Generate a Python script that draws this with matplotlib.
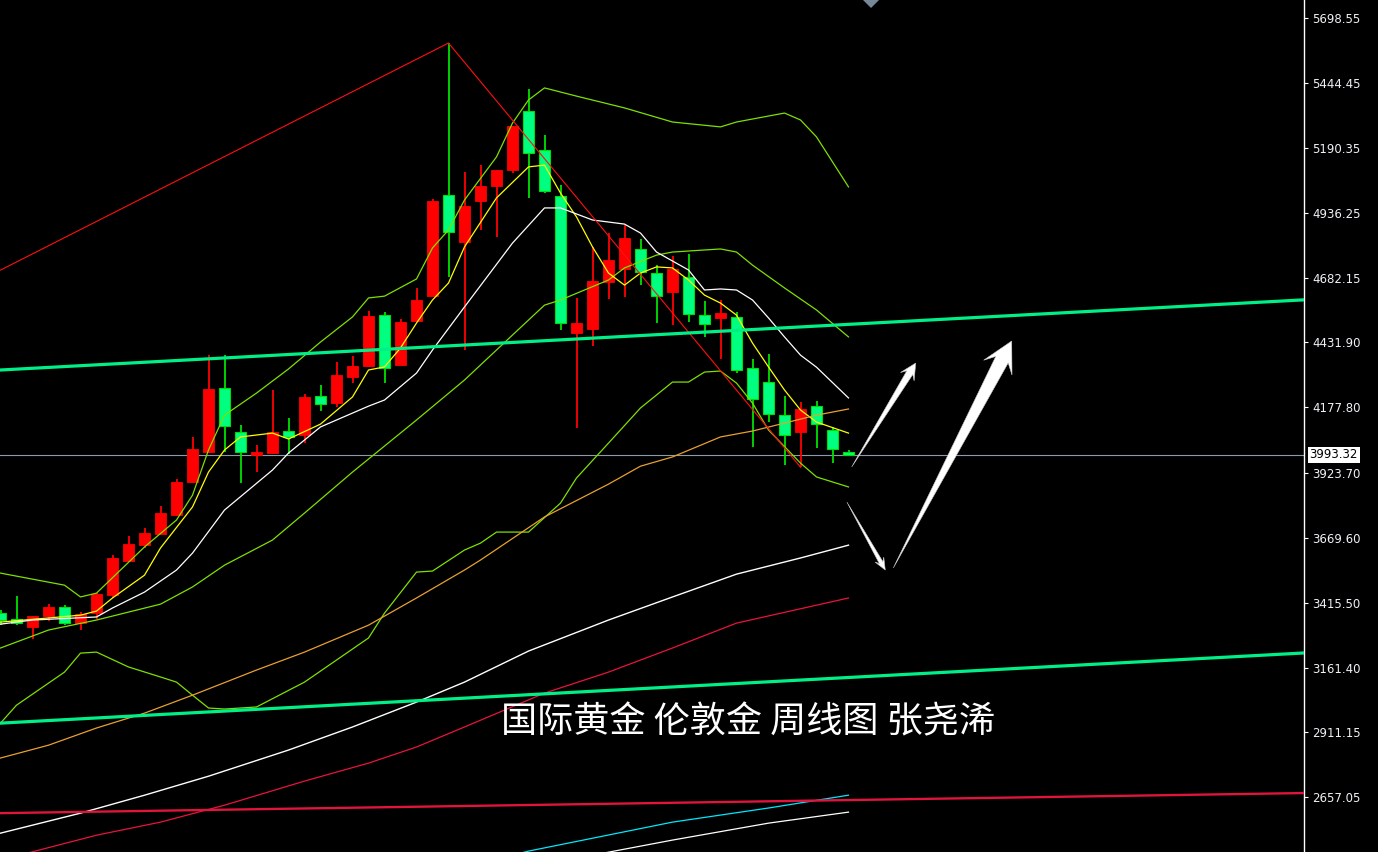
import numpy as np
import matplotlib
matplotlib.use("Agg")
import matplotlib.pyplot as plt
from matplotlib.patches import Polygon
from matplotlib.transforms import IdentityTransform

plt.rcParams['font.family'] = ['Noto Sans CJK SC', 'DejaVu Sans']

# weekly candles (price)
opens = [3376, 3353, 3322, 3364, 3400, 3337, 3376, 3446, 3579, 3641, 3684, 3758, 3887, 4004,
         4254, 4082, 3992, 4000, 4086, 4070, 4222, 4195, 4297, 4339, 4538, 4343, 4515, 4612,
         5006, 4823, 4983, 5041, 5104, 5334, 5182, 5002, 4468, 4484, 4667, 4718, 4796, 4702,
         4628, 4687, 4538, 4527, 4530, 4332, 4277, 4148, 4082, 4183, 4090, 4004]
highs = [3388, 3442, 3366, 3411, 3407, 3380, 3454, 3602, 3676, 3708, 3793, 3899, 4062, 4382,
         4382, 4109, 4031, 4246, 4137, 4230, 4265, 4355, 4378, 4554, 4550, 4523, 4644, 4991,
         5599, 5096, 5123, 5104, 5275, 5420, 5240, 5045, 4605, 4804, 4858, 4889, 4835, 4733,
         4768, 4776, 4593, 4597, 4550, 4367, 4386, 4222, 4199, 4203, 4101, 4012]
lows = [3329, 3329, 3275, 3345, 3329, 3310, 3353, 3435, 3575, 3630, 3680, 3754, 3883, 4000,
        4004, 3883, 3926, 3996, 3996, 4039, 4164, 4180, 4273, 4336, 4273, 4343, 4511, 4612,
        4687, 4402, 4870, 4843, 5092, 4995, 5014, 4480, 4098, 4417, 4601, 4609, 4655, 4507,
        4499, 4511, 4452, 4367, 4312, 4023, 4121, 3953, 3945, 4020, 3961, 3990]
closes = [3349, 3337, 3364, 3400, 3337, 3372, 3450, 3591, 3645, 3688, 3766, 3887, 4016, 4250,
          4105, 4004, 4004, 4082, 4062, 4218, 4191, 4304, 4339, 4534, 4332, 4511, 4597, 4983,
          4862, 4963, 5041, 5104, 5275, 5170, 5022, 4507, 4507, 4671, 4753, 4839, 4706, 4612,
          4718, 4542, 4503, 4546, 4324, 4211, 4152, 4070, 4172, 4113, 4016, 3993.32]
last_price = 3993.32

# indicator lines (bar index, price)
upper_bars = [0, 4, 5, 6, 9, 11, 12, 13, 14, 16, 18, 20, 22, 23, 24, 26, 27, 28, 29, 31, 32, 33,
              34, 36, 39, 42, 45, 46, 49, 50, 51, 53]
upper_vals = [3532, 3485, 3439, 3454, 3634, 3739, 3836, 4012, 4148, 4234, 4328, 4433, 4531, 4605,
              4612, 4679, 4800, 4870, 4987, 5155, 5287, 5377, 5424, 5392, 5346, 5291, 5272, 5291,
              5326, 5299, 5233, 5038]
mid_bars = [0, 3, 6, 10, 12, 14, 17, 19, 22, 26, 29, 31, 34, 35, 38, 39, 41, 42, 45, 46, 47, 49, 51, 53]
mid_vals = [3240, 3310, 3349, 3411, 3478, 3563, 3661, 3766, 3926, 4129, 4285, 4402, 4577, 4597,
            4675, 4722, 4772, 4784, 4796, 4784, 4733, 4644, 4558, 4453]
low_bars = [0, 1, 4, 5, 6, 8, 10, 11, 12, 13, 14, 16, 19, 21, 23, 24, 26, 27, 29, 30, 31, 33, 35,
            36, 38, 40, 42, 43, 44, 45, 46, 47, 48, 50, 51, 53]
low_vals = [2947, 3017, 3146, 3220, 3224, 3166, 3127, 3107, 3056, 3006, 3002, 3010, 3107, 3193,
            3279, 3376, 3536, 3540, 3622, 3649, 3692, 3692, 3805, 3903, 4039, 4176, 4277, 4277,
            4316, 4320, 4273, 4195, 4090, 3961, 3907, 3868]
ma5_bars = [0, 5, 6, 7, 9, 10, 12, 13, 14, 15, 17, 18, 20, 22, 23, 24, 25, 26, 27, 28, 29, 31, 33,
            34, 35, 36, 37, 38, 39, 40, 41, 42, 43, 44, 45, 46, 47, 48, 49, 50, 51, 53]
ma5_vals = [3341, 3368, 3384, 3435, 3524, 3630, 3790, 3926, 4012, 4063, 4078, 4055, 4113, 4219,
            4324, 4336, 4410, 4507, 4597, 4663, 4804, 4995, 5116, 5123, 5014, 4921, 4804, 4702,
            4655, 4702, 4726, 4722, 4675, 4616, 4585, 4538, 4429, 4336, 4246, 4168, 4121, 4078]
ma10_bars = [0, 2, 6, 7, 9, 11, 12, 14, 17, 18, 20, 23, 24, 26, 27, 29, 32, 34, 35, 37, 39, 40,
             41, 43, 44, 45, 46, 47, 48, 49, 50, 51, 53]
ma10_vals = [3333, 3349, 3361, 3396, 3458, 3544, 3610, 3778, 3934, 4000, 4102, 4183, 4207, 4312,
             4402, 4570, 4819, 4956, 4956, 4909, 4893, 4858, 4784, 4714, 4636, 4640, 4636, 4597,
             4527, 4453, 4382, 4335, 4215]
orange_bars = [0, 3, 6, 9, 12, 16, 19, 23, 26, 29, 30, 34, 38, 40, 42, 45, 47, 49, 51, 53]
orange_vals = [2811, 2861, 2928, 2986, 3056, 3154, 3224, 3329, 3435, 3544, 3583, 3751, 3879, 3949,
               3985, 4063, 4086, 4117, 4148, 4172]
lwhite_bars = [0, 5, 9, 13, 18, 22, 26, 29, 33, 38, 42, 46, 50, 53]
lwhite_vals = [2518, 2596, 2666, 2740, 2842, 2932, 3029, 3107, 3228, 3349, 3439, 3528, 3591, 3641]
redma_bars = [0, 6, 10, 14, 19, 23, 26, 29, 34, 38, 42, 46, 53]
redma_vals = [2413, 2510, 2561, 2627, 2721, 2791, 2854, 2932, 3064, 3146, 3240, 3337, 3435]
cyan_bars = [30, 33, 42, 48, 53]
cyan_vals = [2400, 2448, 2561, 2616, 2666]
bwhite_bars = [35, 37, 42, 48, 53]
bwhite_vals = [2400, 2432, 2491, 2557, 2600]

# drawn trend lines
red_trend_bars = [-1, 28, 50]
red_trend_vals = [4682, 5599, 3945]
green_up = [(0, 4324), (53, 4502)]
green_lo = [(0, 2947), (53, 3125)]
crimson = [(0, 2596), (53, 2647)]

ytick_vals = [5698.55, 5444.45, 5190.35, 4936.25, 4682.15, 4431.90, 4177.80, 3923.70,
              3669.60, 3415.50, 3161.40, 2911.15, 2657.05]

# forecast arrows: (tail, tip, shaft px, head width px, head length px)
arrows = [((53.2, 3946), (57.2, 4351), 7, 16, 16),
          ((52.9, 3809), (55.3, 3544), 4, 10, 12),
          ((55.8, 3552), (63.2, 4437), 14, 32, 30)]

title = "国际黄金 伦敦金 周线图 张尧浠"

W, H = 1378, 852
fig = plt.figure(figsize=(W / 100, H / 100), dpi=100, facecolor='black')
ax = fig.add_axes([0, 0, 1304 / W, 1])
ax.set_facecolor('black')
ax.set_xlim(-0.5 / 16, 1303.5 / 16)
ax.set_ylim(2444.5, 5766.8)

# candles
x = np.arange(len(opens))
o = np.array(opens, dtype=float)
c = np.array(closes, dtype=float)
up = c >= o
red, grn, grn_edge = '#FF0000', '#00FF80', '#00E000'
ax.vlines(x[up], np.array(lows)[up], np.array(highs)[up], color=red, lw=1.3, zorder=2)
ax.vlines(x[~up], np.array(lows)[~up], np.array(highs)[~up], color=grn_edge, lw=1.3, zorder=2)
bottom = np.minimum(o, c)
height = np.maximum(np.abs(c - o), 4)
ax.bar(x[up], height[up], bottom=bottom[up], width=0.66, color=red, edgecolor=red, lw=0.6, zorder=2)
ax.bar(x[~up], height[~up], bottom=bottom[~up], width=0.66, color=grn, edgecolor=grn_edge,
       lw=0.8, zorder=2)

# indicator lines
lw = 0.9
ax.plot(upper_bars, upper_vals, color='#7FE000', lw=lw, zorder=3)
ax.plot(mid_bars, mid_vals, color='#7FE000', lw=lw, zorder=3)
ax.plot(low_bars, low_vals, color='#7FE000', lw=lw, zorder=3)
ax.plot(ma5_bars, ma5_vals, color='#FFFF00', lw=lw, zorder=3)
ax.plot(ma10_bars, ma10_vals, color='white', lw=lw, zorder=3)
ax.plot(orange_bars, orange_vals, color='#E8A030', lw=lw, zorder=3)
ax.plot(lwhite_bars, lwhite_vals, color='white', lw=1.0, zorder=3)
ax.plot(redma_bars, redma_vals, color='#E8143C', lw=lw, zorder=3)
ax.plot(cyan_bars, cyan_vals, color='#00E8FF', lw=lw, zorder=3)
ax.plot(bwhite_bars, bwhite_vals, color='white', lw=lw, zorder=3)

# trend lines
ax.plot(red_trend_bars, red_trend_vals, color='#FF1010', lw=0.8, zorder=3)
ax.axline(green_up[0], green_up[1], color='#00F088', lw=2.3, zorder=3)
ax.axline(green_lo[0], green_lo[1], color='#00F088', lw=2.3, zorder=3)
ax.axline(crimson[0], crimson[1], color='#E0143C', lw=1.7, zorder=3)
ax.axhline(last_price, color='#8C9AAA', lw=0.8, zorder=1)

# arrows drawn in pixel space
def wedge_arrow(tail, tip, shaft, head_w, head_len):
    p0 = ax.transData.transform(tail)
    p1 = ax.transData.transform(tip)
    d = p1 - p0
    u = d / np.hypot(*d)
    n = np.array([-u[1], u[0]])
    base = p1 - u * head_len
    neck = p1 - u * head_len * 0.7
    pts = [p0, neck + n * shaft / 2, base + n * head_w / 2, p1,
           base - n * head_w / 2, neck - n * shaft / 2]
    fig.add_artist(Polygon(pts, closed=True, transform=IdentityTransform(),
                           fc='white', ec='#C8C8C8', lw=0.4, zorder=6))

for tail, tip, s, hw, hl in arrows:
    wedge_arrow(tail, tip, s, hw, hl)

# right price axis
for side in ['top', 'left', 'bottom']:
    ax.spines[side].set_visible(False)
ax.spines['right'].set_color('white')
ax.spines['right'].set_linewidth(1.0)
ax.set_xticks([])
ax.yaxis.tick_right()
ax.set_yticks(ytick_vals)
ax.set_yticklabels([f"{v:.2f}" for v in ytick_vals], family='DejaVu Sans', fontsize=8.5,
                   color='#F0F0F5')
ax.tick_params(axis='y', colors='white', length=3, width=0.8, pad=3, labelcolor='#F0F0F5')
ax.annotate(f"{last_price:.2f}", xy=(1.0, last_price), xycoords=('axes fraction', 'data'),
            xytext=(4, 0), textcoords='offset points', ha='left', va='center',
            fontsize=8.5, family='DejaVu Sans', color='black',
            bbox=dict(boxstyle='square,pad=0.15', fc='white', ec='none'), zorder=7,
            annotation_clip=False)

# shift marker at top
tri = [(863 / W, 1.0), (879 / W, 1.0), (871 / W, 1 - 8 / H)]
fig.add_artist(Polygon(tri, closed=True, transform=fig.transFigure, fc='#778899', ec='none'))

fig.text(748 / W, 1 - 722 / H, title, fontsize=26, color='white', ha='center', va='center')

fig.savefig('out.png', dpi=100, facecolor='black')
